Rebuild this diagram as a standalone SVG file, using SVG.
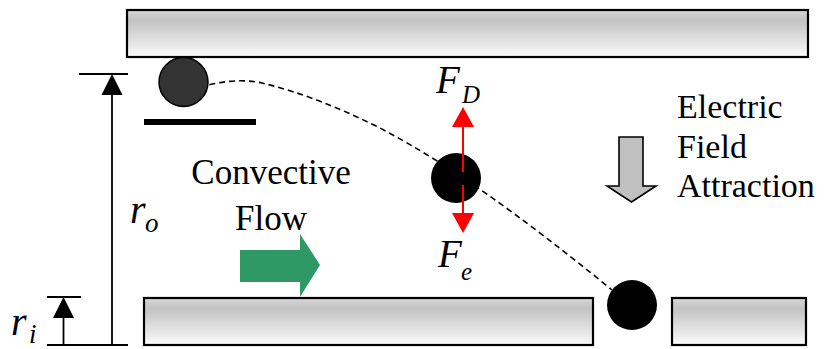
<svg xmlns="http://www.w3.org/2000/svg" width="832" height="349" viewBox="0 0 832 349">
<defs>
<linearGradient id="plateGrad" x1="0" y1="0" x2="0" y2="1">
<stop offset="0" stop-color="#d6d6d6"/>
<stop offset="0.22" stop-color="#c2c2c2"/>
<stop offset="1" stop-color="#fbfbfb"/>
</linearGradient>
</defs>
<style>
.plate{fill:url(#plateGrad);stroke:#000;stroke-width:2.2}
.dim{stroke:#000;stroke-width:1.8;fill:none}
.head{fill:#000}
text{font-family:'Liberation Serif','DejaVu Serif',serif;fill:#000}
.it{font-style:italic}
.red{stroke:#ff0000;stroke-width:2;fill:none}
.redhead{fill:#ff0000}
</style>
<g id="top-plate"><rect class="plate" x="127" y="10" width="681" height="47"/></g>
<g id="bottom-plate-left"><rect class="plate" x="144" y="298" width="449" height="47"/></g>
<g id="bottom-plate-right"><rect class="plate" x="672" y="298" width="134" height="47"/></g>
<g id="collector-bar"><rect x="144" y="119" width="112" height="6" fill="#000"/></g>
<g id="connectors">
<path d="M190,90 C215,82 240,78 262,83 C300,92 340,108 380,128 C450,165 520,215 612,290" fill="none" stroke="#000" stroke-width="1.6" stroke-dasharray="6,4"/>
</g>
<g id="particle-top"><circle cx="183.5" cy="82" r="24.5" fill="#333" stroke="#000" stroke-width="1.5"/></g>
<g id="particle-mid"><circle cx="456" cy="178" r="25" fill="#000"/></g>
<g id="particle-bottom"><circle cx="632" cy="305" r="25" fill="#000"/></g>
<g id="force-FD">
<line class="red" x1="463" y1="126" x2="463" y2="172"/>
<polygon class="redhead" points="463,107 452,127 474,127"/>
<text class="it" x="436" y="93" font-size="39">F</text>
<text class="it" x="462" y="103" font-size="25">D</text>
</g>
<g id="force-Fe">
<line class="red" x1="463" y1="185" x2="463" y2="214"/>
<polygon class="redhead" points="463,233 452,213 474,213"/>
<text class="it" x="438" y="267" font-size="39">F</text>
<text class="it" x="461" y="280" font-size="25">e</text>
</g>
<g id="dim-ro">
<line class="dim" x1="79" y1="74" x2="128" y2="74"/>
<line class="dim" x1="112" y1="90" x2="112" y2="345"/>
<polygon class="head" points="112,74 101.5,95 122.5,95"/>
<line class="dim" x1="47" y1="345" x2="128" y2="345"/>
<text class="it" x="130" y="223" font-size="40">r</text>
<text class="it" x="145" y="232" font-size="27">o</text>
</g>
<g id="dim-ri">
<line class="dim" x1="47" y1="297" x2="81" y2="297"/>
<line class="dim" x1="63.5" y1="312" x2="63.5" y2="345"/>
<polygon class="head" points="63.5,297 53,318 74,318"/>
<text class="it" x="11" y="335" font-size="40">r</text>
<text class="it" x="29" y="343" font-size="27">i</text>
</g>
<g id="convective-flow">
<text x="271" y="184" font-size="35" text-anchor="middle">Convective</text>
<text x="271" y="230" font-size="35" text-anchor="middle">Flow</text>
<polygon points="240,250 300,250 300,234 320,265 300,297 300,282 240,282" fill="#2f9966"/>
</g>
<g id="electric-field">
<polygon points="619,137 643,137 643,186 656,186 631.5,202 607,186 619,186" fill="#c0c0c0" stroke="#000" stroke-width="1.6"/>
<text x="677" y="118" font-size="34">Electric</text>
<text x="677" y="158" font-size="34">Field</text>
<text x="677" y="197" font-size="34">Attraction</text>
</g>
</svg>
